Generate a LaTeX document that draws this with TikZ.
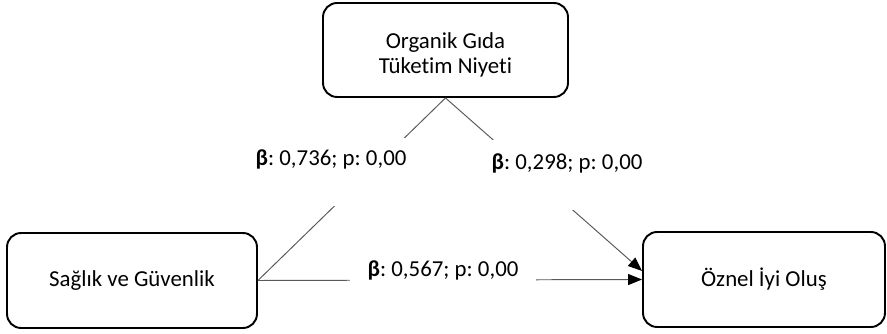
\documentclass[tikz,border=0pt]{standalone}
\usepackage{fontspec}
\setmainfont{Carlito}[Ligatures=NoCommon]
\usetikzlibrary{arrows.meta}
\definecolor{cLine}{HTML}{595959}
\frenchspacing

\begin{document}
\begin{tikzpicture}[x=0.02cm, y=-0.02cm,
  box/.style={rectangle, rounded corners=8pt, draw=black, line width=1.1pt,
    minimum height=1.9cm, align=center, font=\fontsize{13}{14.4}\selectfont},
  arr/.style={-{Triangle[length=2.8mm, width=2.2mm, color=black]}, draw=cLine, line width=0.55pt},
  link/.style={draw=cLine, line width=0.55pt},
  coef/.style={fill=white, inner sep=0pt, inner xsep=4pt, anchor=base,
    font=\fontsize{13}{14.4}\selectfont}
]
  \useasboundingbox (0,0) rectangle (887,334);

  % variables
  \node[box, minimum width=4.9cm, minimum height=1.88cm] (ogtn) at (445.5,50) {\rule{0pt}{0.52cm}Organik Gıda\\Tüketim Niyeti};
  \node[box, minimum width=5cm] (sg) at (132,280.5) {Sağlık ve Güvenlik};
  \node[box, minimum width=4.84cm] (oio) at (764,279.5) {Öznel İyi Oluş};

  % paths
  \draw[link] (sg.east) -- (ogtn.south);
  \draw[arr] (ogtn.south) -- (oio.176);
  \draw[arr] (sg.east) -- (oio.west);

  % coefficients
  \node[coef, text height=0.56cm, text depth=0.8cm] (c1) at (331,166) {\textbf{β}: 0,736; p: 0,00};
  \node[coef, text height=0.6cm, text depth=0.8cm] (c2) at (567,170) {\textbf{β}: 0,298; p: 0,00};
  \node[coef, inner xsep=0.36cm, inner ysep=2pt] (c3) at (443,277) {\textbf{β}: 0,567; p: 0,00};
\end{tikzpicture}
\end{document}
